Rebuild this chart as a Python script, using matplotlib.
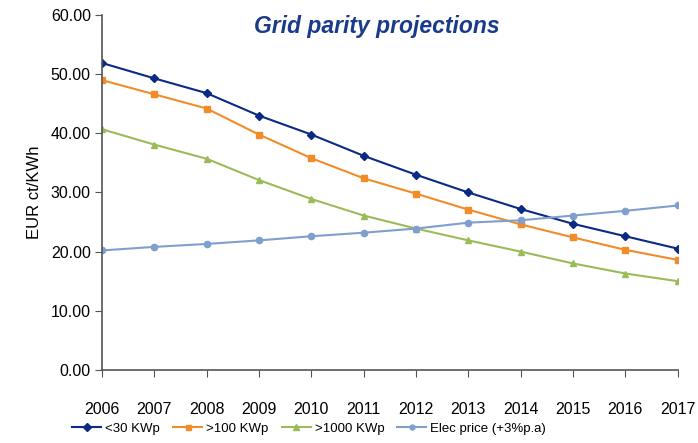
import numpy as np
import matplotlib.pyplot as plt

years = np.arange(2006, 2018)
lt30 = [51.9, 49.3, 46.8, 43.0, 39.8, 36.2, 33.0, 30.0, 27.2, 24.7, 22.6, 20.5]
gt100 = [49.0, 46.6, 44.2, 39.8, 35.8, 32.4, 29.8, 27.1, 24.6, 22.4, 20.3, 18.6]
gt1000 = [40.7, 38.1, 35.7, 32.1, 28.9, 26.1, 23.9, 21.9, 20.0, 18.0, 16.3, 15.0]
elec = [20.2, 20.8, 21.3, 21.9, 22.6, 23.2, 23.9, 24.9, 25.3, 26.1, 26.9, 27.8]

plt.rcParams['font.family'] = ["Liberation Sans", "DejaVu Sans"]

fig = plt.figure(figsize=(6.98, 4.43), dpi=100)
ax = fig.add_axes([0.146, 0.165, 0.825, 0.801])

ax.plot(years, lt30, "-D", color="#0b2a84", lw=1.5, ms=4.5, label="<30 KWp")
ax.plot(years, gt100, "-s", color="#f28c28", lw=1.5, ms=4.5, label=">100 KWp")
ax.plot(years, gt1000, "-^", color="#9bbb59", lw=1.5, ms=5, label=">1000 KWp")
ax.plot(years, elec, "-o", color="#7f9fcf", lw=1.5, ms=4.5, label="Elec price (+3%p.a)")

ax.set_xlim(2006, 2017)
ax.set_ylim(0, 60)
ax.set_yticks(np.arange(0, 61, 10))
ax.set_yticklabels([f"{v:.2f}" for v in np.arange(0, 61, 10)])
ax.set_xticks(years)
for s in ["top", "right"]:
    ax.spines[s].set_visible(False)
for s in ["left", "bottom"]:
    ax.spines[s].set_color("#555555")
    ax.spines[s].set_linewidth(1.2)
ax.tick_params(axis="x", direction="out", length=5, color="#555555", pad=18, labelsize=11.5)
ax.tick_params(axis="y", direction="out", length=5, color="#555555", pad=3, labelsize=11.5)
ax.set_ylabel("EUR ct/KWh", fontsize=12, labelpad=6)

ax.set_title("Grid parity projections", fontsize=16.5, fontweight="bold", fontstyle="italic",
             color="#1a3a8c", x=0.477, y=0.925)

ax.legend(loc="upper center", bbox_to_anchor=(0.36, -0.115), ncol=4, frameon=False,
          fontsize=9.5, handlelength=2.2, columnspacing=1.0, handletextpad=0.3, markerscale=0.8)

fig.savefig("out.png", dpi=100)
